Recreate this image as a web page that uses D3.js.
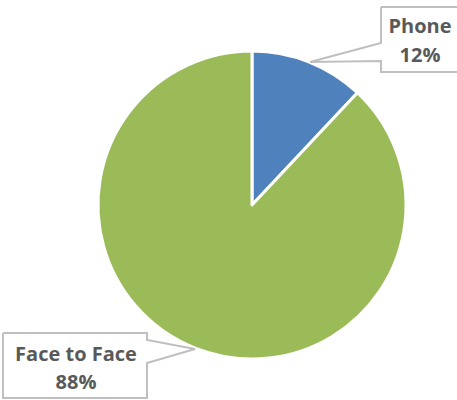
<!DOCTYPE html>
<html><head><meta charset="utf-8">
<script src="https://cdn.jsdelivr.net/npm/d3@7"></script>
<style>body{margin:0;background:#fff}svg{display:block}</style>
</head><body>
<svg id="c" width="457" height="400"></svg>
<script>
const categories = ["Phone", "Face to Face"];
const values = [12, 88];
const labels = ["12%", "88%"];
const colors = ["#4F81BD", "#9BBB59"];

const svg = d3.select("#c");
const cx = 252, cy = 205, r = 154;
const pie = d3.pie().sort(null).value(d => d)(values);
const arc = d3.arc().innerRadius(0).outerRadius(r);
const g = svg.append("g").attr("transform", `translate(${cx},${cy})`);
g.selectAll("path").data(pie).join("path")
  .attr("d", arc).attr("fill", (d, i) => colors[i])
  .attr("stroke", "#fff").attr("stroke-width", 3).attr("stroke-linejoin", "round");

// callouts
const callouts = [
  { pts: [[381,7],[460,7],[460,72],[381,72],[381,61],[310,62],[381,43],[381,7]], tx: 420, ty: [33, 62] },
  { pts: [[3,333],[147,333],[147,340],[195,349],[147,363],[147,398],[3,398],[3,333]], tx: 76, ty: [361, 389] }
];
callouts.forEach((c, i) => {
  svg.append("path").attr("d", d3.line()(c.pts)).attr("fill", "#fff")
    .attr("stroke", "#BFBFBF").attr("stroke-width", 2);
  const t = svg.append("text").attr("text-anchor", "middle")
    .attr("font-family", "'Open Sans', 'Liberation Sans', sans-serif")
    .attr("font-weight", "bold").attr("font-size", 20).attr("fill", "#595959");
  t.append("tspan").attr("x", c.tx).attr("y", c.ty[0]).text(categories[i]);
  t.append("tspan").attr("x", c.tx).attr("y", c.ty[1]).text(labels[i]);
});
</script>
</body></html>
